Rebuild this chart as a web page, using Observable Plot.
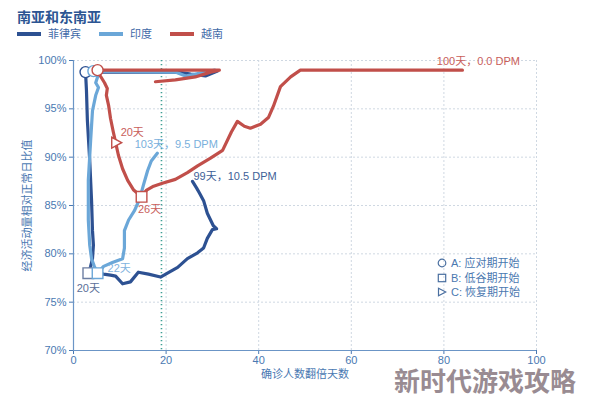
<!DOCTYPE html>
<html><head><meta charset="utf-8">
<script src="https://cdn.jsdelivr.net/npm/d3@7"></script>
<script src="https://cdn.jsdelivr.net/npm/@observablehq/plot@0.6"></script>
<style>
body{margin:0;background:#fff;width:594px;height:395px;overflow:hidden;position:relative;font-family:"Liberation Sans","Noto Sans CJK SC",sans-serif}
#title{position:absolute;left:17px;top:6px;font-size:14px;font-weight:bold;color:#2c5593;font-family:"Noto Sans CJK SC",sans-serif;line-height:20px}
#legend{position:absolute;left:17px;top:26px;display:flex;align-items:center;font-size:11px;color:#3f6aa8;line-height:16px}
#legend .it{display:flex;align-items:center;margin-right:18px}
#legend .sw{width:24px;height:3.5px;margin-right:7px}
#chart{position:absolute;left:0;top:45px}
#mk{position:absolute;left:437px;top:256px;font-size:11px;color:#4a78b0;line-height:14.5px}
#mk div{display:flex;align-items:center}
#mk svg{margin-right:4px}
#wm{position:absolute;left:394px;top:367px;font-size:26px;font-weight:bold;color:#8e7f87;opacity:.9;font-family:"Noto Sans CJK SC",sans-serif;line-height:26px;white-space:nowrap}
</style></head>
<body>
<div id="title"></div>
<div id="legend"></div>
<div id="chart"></div>
<div id="mk"></div>
<div id="wm"></div>
<script>
const titleText = "南亚和东南亚";
const seriesNames = ["菲律宾", "印度", "越南"];
const seriesColors = ["#2d5192", "#6ba7d8", "#c14f4a"];
const xLabel = "确诊人数翻倍天数";
const yLabel = "经济活动量相对正常日比值";
const xTicks = [0, 20, 40, 60, 80, 100];
const yTicks = [70, 75, 80, 85, 90, 95, 100];
const refDay = 19;
const markerNames = ["A: 应对期开始", "B: 低谷期开始", "C: 恢复期开始"];
const watermark = "新时代游戏攻略";

// 菲律宾
const phDays = [31.1,28.5,25.3,22.7,2.6,2.8,3.0,3.5,3.9,4.1,4.3,4.1,3.7,3.2,4.8,6.5,8.0,9.1,10.6,12.3,14.0,16.2,18.8,20.3,22.5,24.6,26.8,28.1,28.9,30.0,30.9,30.2,28.9,28.1,27.2,26.6,25.7];
const phVals = [98.9,98.4,98.6,98.8,98.8,96.9,93.8,89.7,85.5,82.4,80.9,79.5,78.7,78.0,78.1,77.9,77.8,77.7,76.9,77.1,78.1,77.9,77.6,78.0,78.6,79.5,80.1,80.6,81.6,82.5,82.6,82.9,84.2,85.5,86.3,86.8,87.5];
// 印度
const inDays = [30.5,27.4,24.2,22.0,4.3,5.2,4.8,5.4,4.8,4.1,3.7,3.2,3.2,3.5,3.9,4.5,5.2,6.5,8.4,10.6,11.0,11.0,11.9,13.2,14.3,15.1,16.0,16.8,18.1];
const inVals = [99.0,98.7,98.4,98.8,98.9,98.3,97.7,97.2,96.4,94.8,91.7,87.6,83.5,80.9,79.5,78.7,78.0,78.7,79.1,79.5,80.6,82.4,83.5,84.5,85.7,87.1,88.6,89.6,90.4];
// 越南
const vnDays = [17.7,22.0,26.3,29.6,31.5,5.2,5.8,6.7,7.3,7.1,7.6,8.0,8.6,9.1,9.7,10.6,11.7,13.0,14.7,15.8,17.3,19.2,22.0,24.6,26.8,29.6,32.2,34.1,35.4,36.9,38.2,40.4,42.1,43.2,44.7,46.9,49.0,84.0];
const vnVals = [97.8,98.0,98.3,98.8,99.0,99.0,98.4,97.7,97.1,96.4,95.3,94.0,92.6,91.5,90.2,88.8,87.6,86.6,85.9,86.6,87.0,87.3,87.7,88.4,89.1,89.9,90.7,92.6,93.7,93.2,93.0,93.4,94.1,95.3,97.3,98.3,99.0,99.0];

// marker indices (A: 应对期开始, B: 低谷期开始, C: 恢复期开始)
const phA = 4, phB = 13;
const inA = 4, inB = 16;
const vnA = 5, vnB = 18, vnC = 13;

const dayLabels = ["20天", "22天", "26天", "20天"];
const endLabels = ["99天，10.5 DPM", "103天，9.5 DPM", "100天，0.0 DPM"];

const toRows = (ds, vs) => ds.map((d, i) => ({d, v: vs[i]}));
const ph = toRows(phDays, phVals), ind = toRows(inDays, inVals), vn = toRows(vnDays, vnVals);
const [cPH, cIN, cVN] = seriesColors;

const triRight = {draw(ctx, size){const r = Math.sqrt(size/Math.PI); ctx.moveTo(r,0); ctx.lineTo(-r*0.65,-r*0.9); ctx.lineTo(-r*0.65,r*0.9); ctx.closePath();}};

document.getElementById("title").textContent = titleText;
document.getElementById("legend").innerHTML = seriesNames.map((n,i)=>`<div class="it"><span class="sw" style="background:${seriesColors[i]}"></span><span>${n}</span></div>`).join("");
document.getElementById("wm").textContent = watermark;
const mkSyms = [
 `<svg width="10" height="10"><circle cx="5" cy="5" r="3.8" fill="none" stroke="#4a6fa0" stroke-width="1.2"/></svg>`,
 `<svg width="10" height="10"><rect x="1.3" y="1.3" width="7.4" height="7.4" fill="none" stroke="#4a6fa0" stroke-width="1.2"/></svg>`,
 `<svg width="10" height="10"><path d="M1.5,1.3L8.8,5L1.5,8.7Z" fill="none" stroke="#4a6fa0" stroke-width="1.2"/></svg>`];
document.getElementById("mk").innerHTML = markerNames.map((n,i)=>`<div>${mkSyms[i]}<span>${n}</span></div>`).join("");

const font = "'Liberation Sans','Noto Sans CJK SC',sans-serif";
const lineOpts = {x:"d", y:"v", strokeWidth:3.2, strokeLinejoin:"round", strokeLinecap:"round"};
const txt = (row, s, color, o) => Plot.text([row], {x:"d", y:"v", text:()=>s, fill:color, fontSize:11, ...o});

const chart = Plot.plot({
  width: 594, height: 350,
  marginTop: 15, marginBottom: 45, marginLeft: 73, marginRight: 58,
  style: {fontFamily: font, fontSize: "11px", color: "#4a79b2", background: "white"},
  x: {domain: [0, 100], ticks: xTicks, label: xLabel, labelAnchor: "center", labelArrow: "none", labelOffset: 27, tickSize: 4, tickPadding: 2},
  y: {domain: [70, 100], ticks: yTicks, tickFormat: d => d + "%", label: yLabel, labelAnchor: "center", labelArrow: "none", labelOffset: 50, tickSize: 4, tickPadding: 3},
  marks: [
    Plot.gridX(xTicks, {stroke: "#cfd8e2", strokeOpacity: 1, strokeDasharray: "2,2"}),
    Plot.gridY(yTicks, {stroke: "#cfd8e2", strokeOpacity: 1, strokeDasharray: "2,2"}),
    Plot.ruleX([refDay], {stroke: "#3f9f95", strokeWidth: 1.6, strokeDasharray: "1.3,2.7"}),
    Plot.ruleX([0], {stroke: "#6b95c6", strokeWidth: 1.2}),
    Plot.ruleY([70], {stroke: "#6b95c6", strokeWidth: 1.2}),
    Plot.line(ph, {...lineOpts, stroke: cPH}),
    Plot.line(ind, {...lineOpts, stroke: cIN}),
    Plot.line(vn, {...lineOpts, stroke: cVN}),
    Plot.dot([ph[phA]], {x:"d", y:"v", r:5.5, fill:"white", stroke:cPH, strokeWidth:1.4}),
    Plot.dot([ind[inA]], {x:"d", y:"v", r:5.5, fill:"white", stroke:cIN, strokeWidth:1.4}),
    Plot.dot([vn[vnA]], {x:"d", y:"v", r:5.5, fill:"white", stroke:cVN, strokeWidth:1.4}),
    Plot.dot([ph[phB]], {x:"d", y:"v", r:6, symbol:"square", fill:"white", stroke:"#6d7fa3", strokeWidth:1.4}),
    Plot.dot([ind[inB]], {x:"d", y:"v", r:6, symbol:"square", fill:"white", stroke:cIN, strokeWidth:1.4}),
    Plot.dot([vn[vnB]], {x:"d", y:"v", r:6, symbol:"square", fill:"white", stroke:cVN, strokeWidth:1.4}),
    Plot.dot([vn[vnC]], {x:"d", y:"v", r:6, symbol:triRight, fill:"white", stroke:cVN, strokeWidth:1.4}),
    txt(ph[phB], dayLabels[0], "#5b6f98", {dy: 15}),
    txt(ind[inB], dayLabels[1], "#7fb3de", {dx: 10, dy: -5, textAnchor: "start"}),
    txt(vn[vnB], dayLabels[2], "#c9605b", {dx: 8, dy: 13}),
    txt(vn[vnC], dayLabels[3], "#c9605b", {dx: 5, dy: -10, textAnchor: "start"}),
    txt(ph[ph.length-1], endLabels[0], "#3e5f98", {dx: 1, dy: -5, textAnchor: "start"}),
    txt(ind[ind.length-1], endLabels[1], "#79b0dc", {dx: 19, dy: -9}),
    txt(vn[vn.length-1], endLabels[2], "#c9605b", {dx: 16, dy: -9})
  ]
});
document.getElementById("chart").appendChild(chart);
</script>
</body></html>
